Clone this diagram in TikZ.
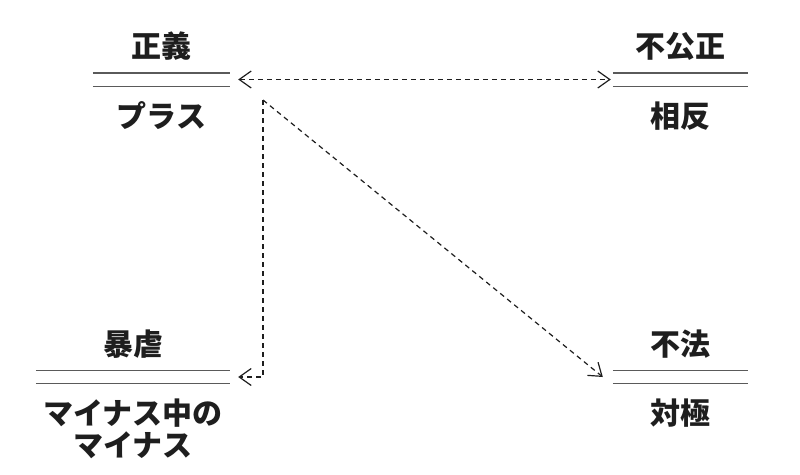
\documentclass[tikz,border=0pt]{standalone}
\usepackage{fontspec}
\newfontfamily\jpfont{Noto Sans CJK JP}
\usetikzlibrary{arrows.meta,positioning}
\definecolor{ink}{RGB}{30,30,30}
\definecolor{rulegray}{RGB}{90,90,90}
\tikzset{
  >={Straight Barb[length=12pt,width=17pt]},
  term/.style={font=\jpfont\bfseries\fontsize{30}{32}\selectfont,text=ink,inner sep=0pt,align=center},
  rule/.style={minimum width=#1,minimum height=13pt,inner sep=0pt},
  rule line/.style={draw=rulegray,line width=1.4pt},
  link/.style={draw=ink,line width=1.2pt,dash pattern=on 5pt off 4pt},
}

\begin{document}
\begin{tikzpicture}[x=1pt,y=-1pt]
  \useasboundingbox (0,0) rectangle (800,474);
  % four terms: title over a double rule, meaning below
  \foreach \n/\x/\y/\w/\t/\l in {seigi/161.5/79.5/137/正義/プラス,fukousei/680.5/79.5/135/不公正/相反,bougyaku/133/377/194/暴虐/マイナス中の\\マイナス,fuhou/680.5/377/135/不法/対極}{
    \node[rule=\w pt] (\n) at (\x,\y) {};
    \node[term,above=12pt of \n] (\n-t) {\t};
    \node[term,below=15pt of \n] (\n-l) {\l};
    \draw[rule line] (\n.north west) -- (\n.north east) (\n.south west) -- (\n.south east);
  }
  \coordinate (hub) at (263,100);
  \draw[link,<->] ([xshift=8pt]seigi.east) -- ([xshift=-2pt]fukousei.west);
  \draw[link,->] (hub) |- ([xshift=8pt]bougyaku.east);
  \draw[link,->] (hub) -- ([xshift=-10pt]fuhou.west);
\end{tikzpicture}
\end{document}
